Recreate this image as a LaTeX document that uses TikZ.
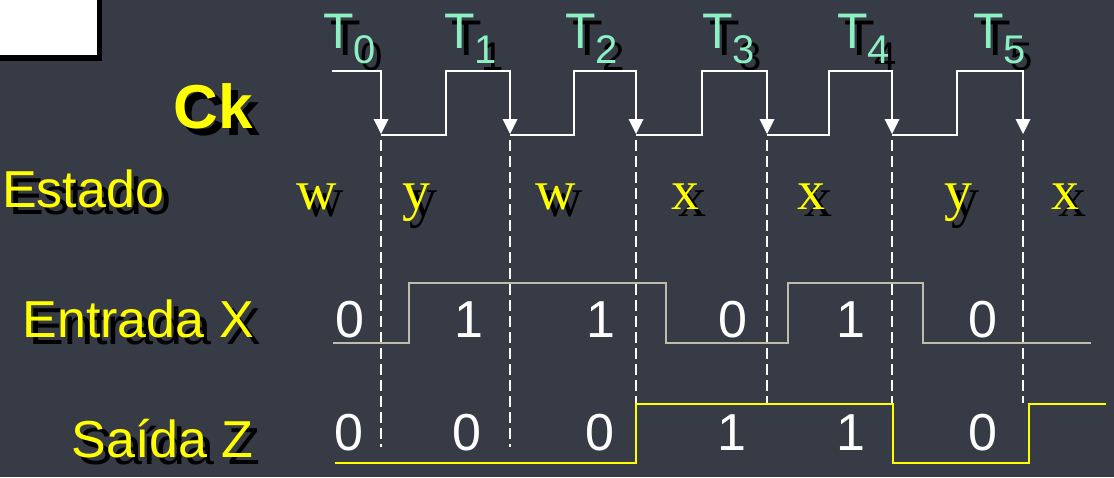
\documentclass[tikz,border=0pt]{standalone}
\usepackage{fontspec}
\setmainfont{Liberation Sans}
\newfontfamily\timesf{Liberation Serif}
\definecolor{bg}{RGB}{54,59,70}
\definecolor{mint}{RGB}{140,240,195}
\definecolor{wavegray}{RGB}{190,188,170}
\definecolor{ylw}{RGB}{255,255,0}
\newcommand\shnode[5]{%
  \node[#2,text=black] (#1-sh) at ({#3+7},{#4+7}) {#5};
  \node[#2] (#1) at (#3,#4) {#5};}
\begin{document}
\begin{tikzpicture}[x=1pt,y=-1pt,
  biglbl/.style={inner sep=0pt, text=ylw, font=\fontsize{52}{52}\selectfont},
  cklbl/.style={inner sep=0pt, text=ylw, anchor=base east, font=\bfseries\fontsize{62}{62}\selectfont},
  tlbl/.style={inner sep=0pt, text=mint, anchor=base west, font=\fontsize{50}{50}\selectfont},
  stlbl/.style={inner sep=0pt, text=ylw, anchor=base, font=\timesf\fontsize{56}{56}\selectfont},
  digit/.style={inner sep=0pt, text=white, anchor=base, font=\fontsize{52}{52}\selectfont},
  clk/.style={draw=white, line width=2pt},
  tick/.style={draw=white, line width=2.2pt, dash pattern=on 11pt off 5pt},
  xwave/.style={draw=wavegray, line width=2.5pt},
  zwave/.style={draw=ylw, line width=2.5pt}]
\fill[bg] (0,0) rectangle (1114,477);
\useasboundingbox (0,0) rectangle (1114,477);
% white box
\fill[black] (0,0) rectangle (102,61);
\fill[white] (0,0) rectangle (97,55);
% labels
\shnode{ck}{cklbl}{253}{128}{Ck}
\shnode{estado}{biglbl,anchor=base west}{2}{207}{Estado}
\shnode{entrada}{biglbl,anchor=base east}{254}{337}{Entrada X}
\shnode{saida}{biglbl,anchor=base east}{254}{457}{Saída Z}
% T labels
\shnode{T0}{tlbl}{323}{48}{T\raisebox{-15pt}{\fontsize{40}{40}\selectfont 0}}
\shnode{T1}{tlbl}{444}{48}{T\raisebox{-15pt}{\fontsize{40}{40}\selectfont 1}}
\shnode{T2}{tlbl}{565}{48}{T\raisebox{-15pt}{\fontsize{40}{40}\selectfont 2}}
\shnode{T3}{tlbl}{702}{48}{T\raisebox{-15pt}{\fontsize{40}{40}\selectfont 3}}
\shnode{T4}{tlbl}{837}{48}{T\raisebox{-15pt}{\fontsize{40}{40}\selectfont 4}}
\shnode{T5}{tlbl}{973}{48}{T\raisebox{-15pt}{\fontsize{40}{40}\selectfont 5}}
% states
\shnode{s0}{stlbl}{317}{209}{w}
\shnode{s1}{stlbl}{416}{209}{y}
\shnode{s2}{stlbl}{556}{209}{w}
\shnode{s3}{stlbl}{685}{209}{x}
\shnode{s4}{stlbl}{811}{209}{x}
\shnode{s5}{stlbl}{958}{209}{y}
\shnode{s6}{stlbl}{1065}{209}{x}
% dashed ticks
\draw[tick] (381,140) -- (381,447);
\draw[tick] (510,140) -- (510,447);
\draw[tick] (636,140) -- (636,403);
\draw[tick] (767,140) -- (767,403);
\draw[tick] (892,140) -- (892,403);
\draw[tick] (1023,140) -- (1023,403);
% clock
\draw[clk] (332,71) -- (382,71);
\draw[clk] (381,135) -- (446,135) -- (446,71) -- (511,71);
\draw[clk] (510,135) -- (574,135) -- (574,71) -- (637,71);
\draw[clk] (636,135) -- (702,135) -- (702,71) -- (768,71);
\draw[clk] (767,135) -- (829,135) -- (829,71) -- (893,71);
\draw[clk] (892,135) -- (957,135) -- (957,71) -- (1024,71);
\foreach \e in {381,510,636,767,892,1023}{
  \draw[clk] (\e,71) -- (\e,122);
  \fill[white] ({\e-7.5},119) -- ({\e+7.5},119) -- (\e,134) -- cycle;}
% input X
\draw[xwave] (333,343) -- (409,343) -- (409,283) -- (666,283) -- (666,343)
  -- (788,343) -- (788,283) -- (923,283) -- (923,343) -- (1091,343);
% output Z
\draw[zwave] (335,463) -- (636,463) -- (636,404) -- (893,404) -- (893,463)
  -- (1029,463) -- (1029,404) -- (1106,404);
% digits
\node[digit] (x0) at (350,337) {0};
\node[digit] (x1) at (469,337) {1};
\node[digit] (x2) at (601,337) {1};
\node[digit] (x3) at (733,337) {0};
\node[digit] (x4) at (851,337) {1};
\node[digit] (x5) at (983,337) {0};
\node[digit] (z0) at (349,450) {0};
\node[digit] (z1) at (467,450) {0};
\node[digit] (z2) at (600,450) {0};
\node[digit] (z3) at (732,450) {1};
\node[digit] (z4) at (851,450) {1};
\node[digit] (z5) at (983,450) {0};
\end{tikzpicture}
\end{document}
